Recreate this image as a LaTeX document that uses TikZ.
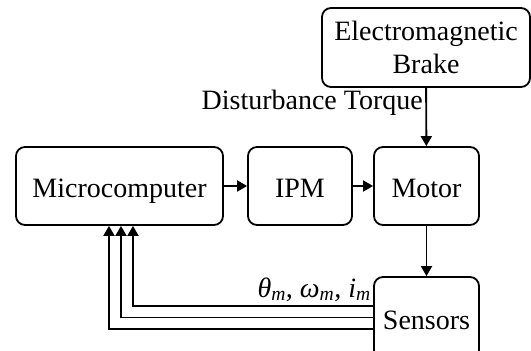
\documentclass[tikz,border=0pt]{standalone}
\usepackage{fontspec}
\setmainfont{Liberation Serif}
\usetikzlibrary{arrows.meta,positioning}
\begin{document}
\begin{tikzpicture}[x=1pt,y=-1pt,
  blk/.style={draw,line width=1.8pt,rounded corners=9pt,align=center,inner sep=0pt},
  one/.style={text height=22pt,text depth=0pt},
  arr/.style={line width=1.9pt,-{Triangle[length=10pt,width=11pt]}},
  every node/.style={font=\fontsize{28}{33}\selectfont}]
\useasboundingbox (0,0) rectangle (531,351);
\clip (0,0) rectangle (531,351);
\node[blk,one,minimum width=207pt,minimum height=78pt] (micro) at (119.5,186) {Microcomputer};
\node[blk,one,minimum width=104pt,minimum height=78pt] (ipm) at (300,186) {IPM};
\node[blk,one,minimum width=105pt,minimum height=78pt] (motor) at (426.5,186) {Motor};
\node[blk,minimum width=208pt,minimum height=79pt] (brake) at (426,47.5) {Electromagnetic\\Brake};
\node[blk,one,minimum width=105pt,minimum height=82pt] (sens) at (426.5,318) {Sensors};
\draw[arr] (micro) -- (ipm);
\draw[arr] (ipm) -- (motor);
\draw[arr] (brake) -- (motor);
\draw[arr] (motor) -- (sens);
\node[anchor=east,inner sep=0pt] (dist) at (423,103) {Disturbance Torque};
\coordinate (h1) at (0,306);
\coordinate (h2) at (0,317.5);
\coordinate (h3) at (0,329);
\coordinate (v1) at (133,0);
\coordinate (v2) at (121,0);
\coordinate (v3) at (109,0);
\draw[arr] (sens.west |- h1) -| (micro.south -| v1);
\draw[arr] (sens.west |- h2) -| (micro.south -| v2);
\draw[arr] (sens.west |- h3) -| (micro.south -| v3);
\node[anchor=base east,inner sep=0pt] (sig) at (371,297) {\itshape θ\textsubscript{m}, ω\textsubscript{m}, i\textsubscript{m}};
\end{tikzpicture}
\end{document}
